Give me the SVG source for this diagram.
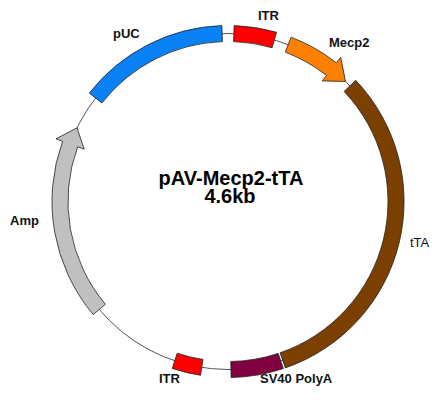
<svg xmlns="http://www.w3.org/2000/svg" width="442" height="400" viewBox="0 0 442 400">
<style>
.bb{fill:#ffffff}
.feat{stroke:#222222;stroke-width:0.8;stroke-linejoin:miter}
.lbl{font-family:"Liberation Sans",Arial,sans-serif;font-size:13px;font-weight:bold;fill:#111111}
.title{font-family:"Liberation Sans",Arial,sans-serif;font-size:20px;font-weight:bold;fill:#000000;text-anchor:middle}
</style>
<rect width="442" height="400" fill="#ffffff"/>
<g id="backbone">
<circle cx="228" cy="201.5" r="168" fill="none" stroke="#555555" stroke-width="1"/>
</g>
<g id="connectors"></g>
<g id="pUC">
<path class="feat" fill="#0a80f5" d="M89.3 93.1 A176 176 0 0 1 221.86 25.6 L222.42 41.6 A160 160 0 0 0 101.9 103.0 Z"/>
<text class="lbl" x="113" y="38">pUC</text>
</g>
<g id="ITR1">
<path class="feat" fill="#ff0000" d="M234.14 25.6 A176 176 0 0 1 276.5 32.3 L272.1 47.7 A160 160 0 0 0 233.58 41.6 Z"/>
<text class="lbl" x="258" y="20">ITR</text>
</g>
<g id="Mecp2">
<path class="feat" fill="#ff8000" d="M291.1 37.2 A176 176 0 0 1 336.4 62.8 L340.7 57.3 L345.5 81.5 L322.2 80.9 L326.5 75.4 A160 160 0 0 0 285.3 52.1 Z"/>
<text class="lbl" x="329" y="47">Mecp2</text>
</g>
<g id="tTA">
<path class="feat" fill="#7b3f00" d="M355.7 80.3 A176 176 0 0 1 285.3 367.9 L280.1 352.8 A160 160 0 0 0 344.1 91.4 Z"/>
<text class="lbl" x="410" y="247" style="font-weight:normal">tTA</text>
</g>
<g id="SV40PolyA">
<path class="feat" fill="#800040" d="M283.3 368.6 A176 176 0 0 1 231.07 377.5 L230.79 361.5 A160 160 0 0 0 278.2 353.4 Z"/>
<text class="lbl" x="260" y="383">SV40 PolyA</text>
</g>
<g id="ITR2">
<path class="feat" fill="#ff0000" d="M200.5 375.3 A176 176 0 0 1 172.2 368.4 L177.2 353.2 A160 160 0 0 0 203.0 359.5 Z"/>
<text class="lbl" x="159" y="383">ITR</text>
</g>
<g id="Amp">
<path class="feat" fill="#c0c0c0" d="M93.2 314.6 A176 176 0 0 1 62.6 141.3 L56.0 138.9 L77.0 127.8 L84.2 149.2 L77.6 146.8 A160 160 0 0 0 105.4 304.3 Z"/>
<text class="lbl" x="10" y="225">Amp</text>
</g>
<g id="title">
<text class="title" x="231" y="185">pAV-Mecp2-tTA</text>
<text class="title" x="230" y="203">4.6kb</text>
</g>
</svg>
